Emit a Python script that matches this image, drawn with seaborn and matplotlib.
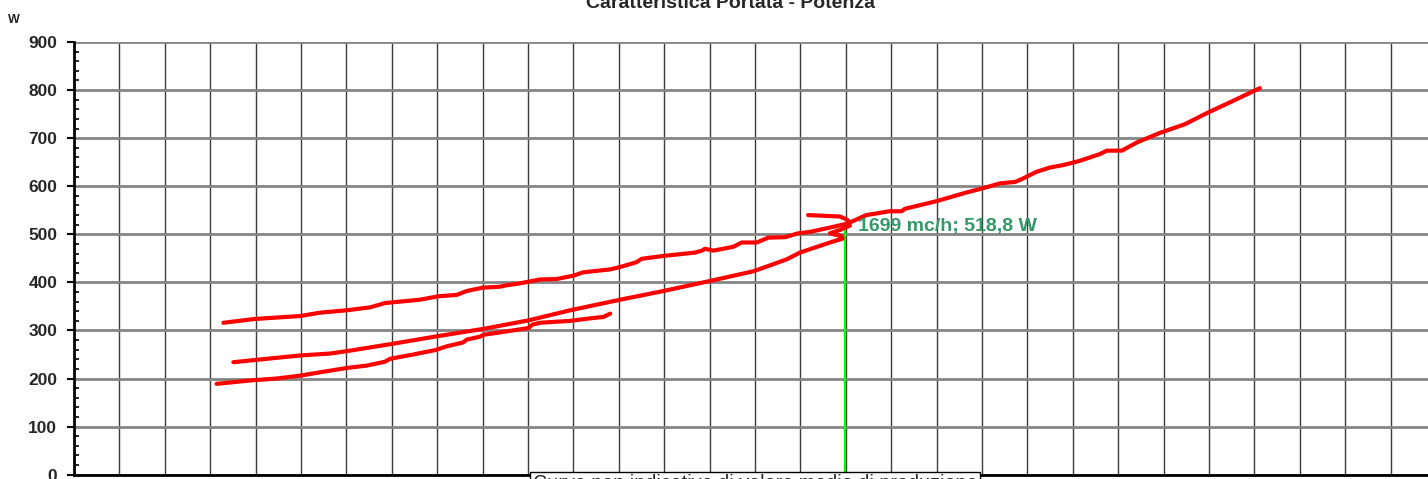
import matplotlib
matplotlib.use("Agg")
import matplotlib.pyplot as plt
import matplotlib.transforms as mtransforms
from matplotlib.ticker import MultipleLocator
import seaborn as sns
import pandas as pd

# ---------------- data ----------------
curve_a_flow = [329, 399, 498, 542, 601, 652, 685, 718, 762, 802, 843, 865, 900, 938, 953, 982,
                1026, 1063, 1100, 1122, 1181, 1203, 1239, 1250, 1298, 1368, 1383, 1390, 1408, 1452,
                1471, 1504, 1529, 1566, 1595, 1621, 1665, 1698, 1717, 1745, 1797, 1823, 1830, 1900,
                1966, 1999, 2040, 2073, 2088, 2120, 2150, 2179, 2216, 2260, 2275, 2308, 2341, 2392,
                2447, 2495, 2554, 2612]
curve_a_power = [316, 324, 330, 337, 342, 348, 357, 360, 364, 371, 374, 382, 389, 391, 394, 398,
                 406, 407, 414, 421, 427, 432, 442, 449, 455, 462, 466, 470, 466, 474,
                 483, 483, 493, 494, 502, 505, 514, 521, 528, 540, 548, 548, 553, 569,
                 587, 595, 606, 609, 615, 630, 639, 644, 653, 667, 674, 674, 691, 711,
                 729, 752, 778, 804]

curve_b_flow = [351, 424, 498, 564, 601, 700, 800, 900, 1001, 1093, 1203, 1298, 1401, 1496, 1526,
                1570, 1599, 1643, 1672, 1693, 1691, 1665, 1687, 1709]
curve_b_power = [234, 241, 248, 252, 257, 272, 288, 303, 321, 342, 364, 382, 403, 423, 433,
                 448, 462, 476, 485, 491, 496, 502, 509, 518]

curve_c_flow = [314, 388, 446, 498, 542, 601, 645, 685, 696, 747, 795, 821, 857, 865, 894, 902,
                938, 1001, 1009, 1026, 1093, 1144, 1166, 1181]
curve_c_power = [189, 196, 200, 206, 213, 222, 227, 235, 241, 250, 259, 267, 275, 281, 287, 291,
                 296, 305, 312, 316, 320, 326, 328, 335]

curve_d_flow = [1617, 1687, 1702, 1709]
curve_d_power = [540, 537, 531, 523]

point_flow = 1699
point_power = 518.8
point_label = "1699 mc/h; 518,8 W"

title = "Caratteristica Portata - Potenza"
y_unit = "W"
caption = "Curve non indicative di valore medio di produzione"

# ---------------- style ----------------
sns.set_theme(style="white")
plt.rcParams['font.family'] = ['Liberation Sans', 'DejaVu Sans']

W, H = 1428, 479
fig = plt.figure(figsize=(W / 100, H / 100), dpi=100)
left_px, right_px, top_px, bottom_px = 74, 74 + 3000 * 0.454, 42.0, 474.7
ax = fig.add_axes([left_px / W, (H - bottom_px) / H, (right_px - left_px) / W, (bottom_px - top_px) / H])

red = "#ff0000"
for fl, pw in [(curve_a_flow, curve_a_power), (curve_b_flow, curve_b_power),
               (curve_c_flow, curve_c_power), (curve_d_flow, curve_d_power)]:
    df = pd.DataFrame({"flow": fl, "power": pw})
    sns.lineplot(data=df, x="flow", y="power", sort=False, estimator=None, ax=ax,
                 color=red, lw=3.0, solid_capstyle="round", solid_joinstyle="round", zorder=4)

# marker drop line
ax.plot([point_flow, point_flow], [0, point_power], color="#00ff00", lw=1.6, zorder=3)
ax.text(point_flow + 28, 517, point_label, color="#339966", fontsize=14, fontweight="bold",
        va="center", ha="left", zorder=5)

ax.set_xlim(0, 3000)
ax.set_ylim(0, 900)
ax.xaxis.set_major_locator(MultipleLocator(100))
ax.yaxis.set_major_locator(MultipleLocator(100))
ax.yaxis.set_minor_locator(MultipleLocator(20))
ax.xaxis.grid(True, color="#3a3a3a", lw=1.0, zorder=1)
ax.yaxis.grid(True, color="#858585", lw=2.0, zorder=1)
ax.set_axisbelow(True)
ax.set_xlabel("")
ax.set_ylabel("")
ax.set_xticklabels([])
ax.tick_params(axis="x", length=0)
ax.tick_params(axis="y", which="major", direction="out", length=5, width=1.5, color="black",
               labelsize=12.5, pad=7, left=True)
ax.tick_params(axis="y", which="minor", direction="in", length=3.5, width=1.2, color="black", left=True)
for lbl in ax.get_yticklabels():
    lbl.set_fontweight("bold")
for s in ["top", "right"]:
    ax.spines[s].set_visible(False)
for s in ["left", "bottom"]:
    ax.spines[s].set_color("black")
    ax.spines[s].set_linewidth(2.0)

fig.text(731 / W, (H - 8) / H, title, ha="center", va="baseline", fontsize=14, fontweight="bold")
fig.text(14 / W, (H - 23) / H, y_unit, ha="center", va="baseline", fontsize=9, fontweight="bold")

trans = mtransforms.blended_transform_factory(ax.transData, ax.transAxes)
ax.text(1500, 0.001, caption, transform=trans, ha="center", va="top", fontsize=14.2,
        bbox=dict(boxstyle="square,pad=0.12", facecolor="white", edgecolor="black", lw=1.0),
        clip_on=False, zorder=6)

fig.savefig("out.png", dpi=100)
